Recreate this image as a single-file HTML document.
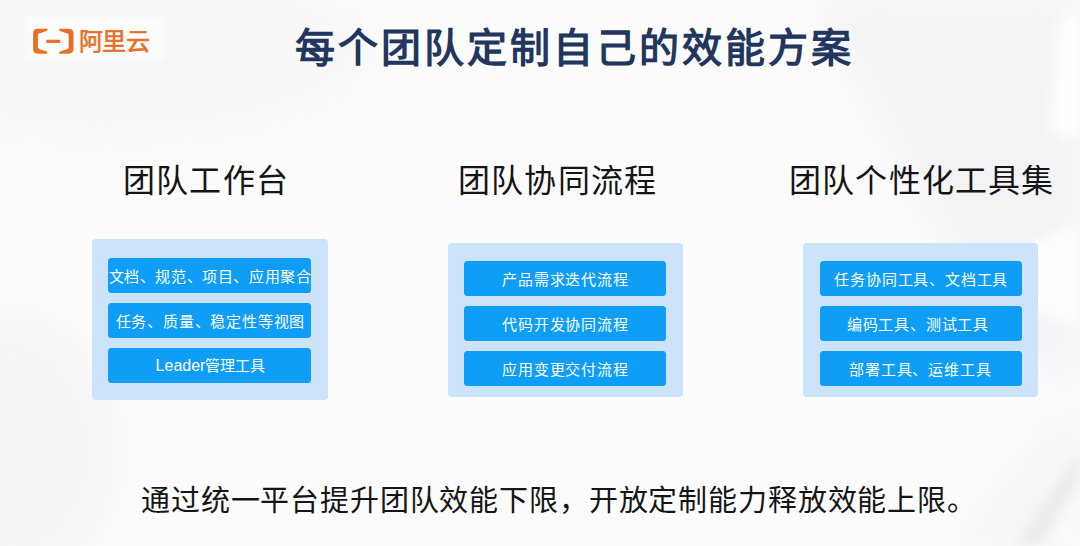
<!DOCTYPE html>
<html lang="zh-CN"><head><meta charset="utf-8">
<style>
html,body{margin:0;padding:0;}
body{width:1080px;height:546px;overflow:hidden;position:relative;background:#fbfbfc;font-family:"Liberation Sans",sans-serif;}
.abs{position:absolute;}
.title{left:295px;top:28px;font-size:40px;font-weight:bold;color:#22365f;white-space:nowrap;line-height:40px;letter-spacing:3px;}
.h{font-size:32px;color:#151515;white-space:nowrap;line-height:32px;letter-spacing:1.2px;}
.panel{background:#cce3fa;border-radius:4px;}
.btn{background:#0e9df7;border-radius:3.5px;color:#fff;font-size:15px;text-align:center;line-height:37px;height:35px;white-space:nowrap;letter-spacing:0.8px;text-indent:0.8px;}
.foot{left:141px;top:487px;font-size:29px;color:#151515;white-space:nowrap;line-height:29px;letter-spacing:0.85px;}
.logo-t{left:79px;top:30px;font-size:24px;letter-spacing:-0.6px;font-weight:normal;-webkit-text-stroke:0.6px #ea6e24;color:#ea6e24;line-height:24px;white-space:nowrap;}
</style></head><body>
<svg class="abs" style="left:0;top:0" width="1080" height="546" viewBox="0 0 1080 546">
<defs><filter id="bl" x="-20%" y="-20%" width="140%" height="140%"><feGaussianBlur stdDeviation="18"/></filter>
<filter id="bl3" x="-20%" y="-20%" width="140%" height="140%"><feGaussianBlur stdDeviation="2"/></filter>
<filter id="bl2" x="-20%" y="-20%" width="140%" height="140%"><feGaussianBlur stdDeviation="6"/></filter></defs>
<rect width="1080" height="546" fill="#fcfcfd"/>
<g filter="url(#bl)">
<ellipse cx="110" cy="50" rx="260" ry="90" fill="#f8f8f9"/>
<polygon points="820,0 1080,0 1080,380 1000,340" fill="#f3f3f5"/>
<polygon points="960,546 1080,400 1080,546" fill="#f5f5f7"/>
<ellipse cx="10" cy="450" rx="100" ry="130" fill="#f4f4f6"/>
</g>
<rect x="26" y="17" width="138" height="42" fill="#fdfdfd" filter="url(#bl3)"/>
<g filter="url(#bl2)">
<polygon points="1060,20 1080,10 1080,140 1050,130" fill="#ffffff"/>
<polygon points="1080,220 1080,330 1000,300 1020,250" fill="#fdfdfd"/>
<polygon points="1080,450 1080,480 1040,546 1015,546" fill="#ebebed"/>
<polygon points="1080,490 1080,546 1050,546" fill="#fbfbfc"/>
</g>
</svg>
<svg class="abs" style="left:28px;top:22px" width="50" height="36" viewBox="0 0 50 36">
<g fill="#ea6e24">
<path d="M 19.8 6.7 L 10 6.7 Q 5.1 6.7 5.1 11.6 L 5.1 26.8 Q 5.1 31.7 10 31.7 L 19.8 31.7 L 18.6 29.4 L 12.6 27.4 Q 9.9 27.2 9.9 24.6 L 9.9 13.8 Q 9.9 11.2 12.6 11 L 18.6 9 Z"/>
<path d="M 30.8 6.7 L 40.6 6.7 Q 45.5 6.7 45.5 11.6 L 45.5 26.8 Q 45.5 31.7 40.6 31.7 L 30.8 31.7 L 32.0 29.4 L 38.0 27.4 Q 40.7 27.2 40.7 24.6 L 40.7 13.8 Q 40.7 11.2 38.0 11 L 32.0 9 Z"/>
<rect x="18.3" y="17.7" width="14" height="3.2" rx="0.8"/>
</g></svg>
<div class="abs logo-t">阿里云</div>

<div class="abs title">每个团队定制自己的效能方案</div>

<div class="abs h" style="left:123px;top:165px;">团队工作台</div>
<div class="abs h" style="left:458px;top:165px;">团队协同流程</div>
<div class="abs h" style="left:789px;top:165px;">团队个性化工具集</div>

<div class="abs panel" style="left:92px;top:239px;width:236px;height:161px;"></div>
<div class="abs btn" style="left:108px;top:258px;width:203px;letter-spacing:0.6px;text-indent:0.6px">文档、规范、项目、应用聚合</div>
<div class="abs btn" style="left:108px;top:303px;width:203px;padding-left:1px;box-sizing:border-box">任务、质量、稳定性等视图</div>
<div class="abs btn" style="left:108px;top:348px;width:203px;padding-left:2px;box-sizing:border-box;letter-spacing:0;text-indent:0;line-height:36px"><span style="font-size:16px">Leader</span>管理工具</div>

<div class="abs panel" style="left:448px;top:243px;width:235px;height:154px;"></div>
<div class="abs btn" style="left:464px;top:261px;width:202px;">产品需求迭代流程</div>
<div class="abs btn" style="left:464px;top:306px;width:202px;">代码开发协同流程</div>
<div class="abs btn" style="left:464px;top:351px;width:202px;">应用变更交付流程</div>

<div class="abs panel" style="left:803px;top:243px;width:235px;height:154px;"></div>
<div class="abs btn" style="left:820px;top:261px;width:202px;">任务协同工具、文档工具</div>
<div class="abs btn" style="left:820px;top:306px;width:202px;padding-right:7px;box-sizing:border-box">编码工具、测试工具</div>
<div class="abs btn" style="left:820px;top:351px;width:202px;padding-right:2px;box-sizing:border-box">部署工具、运维工具</div>

<div class="abs foot">通过统一平台提升团队效能下限，开放定制能力释放效能上限。</div>
</body></html>
